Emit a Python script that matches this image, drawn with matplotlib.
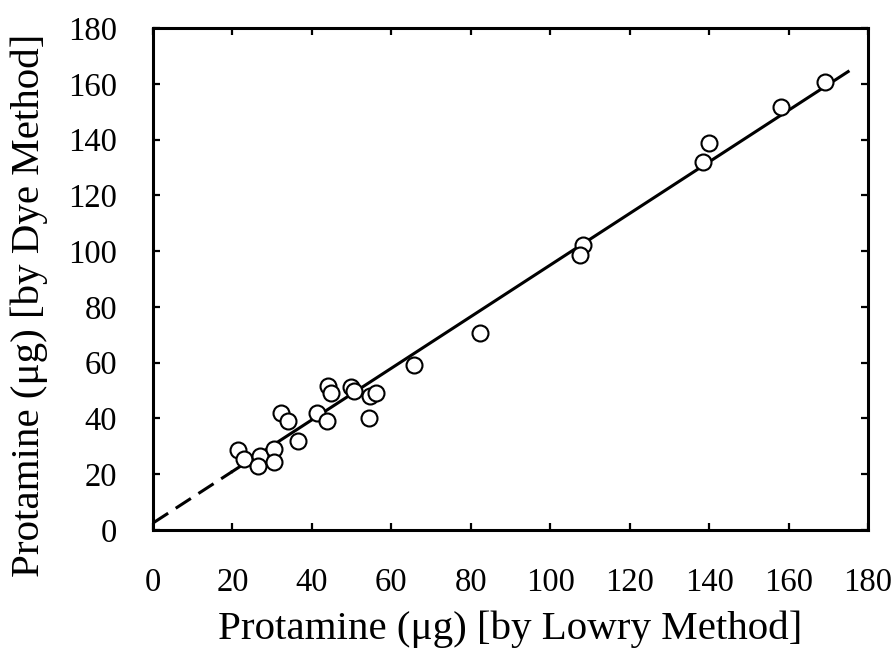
import matplotlib
matplotlib.use("Agg")
import matplotlib.pyplot as plt
import numpy as np

# Data
lowry = [21.5, 23.0, 26.9, 26.4, 30.5, 30.4, 32.2, 34.1, 36.4, 41.3, 43.7,
         44.1, 44.8, 49.8, 50.6, 54.4, 54.6, 56.2, 65.8, 82.4, 108.2, 107.4,
         140.0, 138.4, 158.2, 169.3]
dye = [28.8, 25.5, 26.5, 22.8, 28.9, 24.4, 41.8, 39.1, 31.9, 42.1, 39.1,
       51.8, 49.0, 51.1, 49.7, 40.3, 48.1, 49.1, 59.3, 70.5, 102.2, 98.6,
       138.8, 131.8, 151.5, 160.5]

fit_slope = 0.925
fit_intercept = 2.5
dashed_span = [0, 20]
solid_span = [20, 175]

x_ticks = [0, 20, 40, 60, 80, 100, 120, 140, 160, 180]
y_ticks = [0, 20, 40, 60, 80, 100, 120, 140, 160, 180]

xlabel = "Protamine (\u03bcg) [by Lowry Method]"
ylabel = "Protamine (\u03bcg) [by Dye Method]"

plt.rcParams['font.family'] = ['Liberation Serif', 'DejaVu Serif']
plt.rcParams['lines.scale_dashes'] = False

fig = plt.figure(figsize=(8.94, 6.55), dpi=100)
ax = fig.add_axes([153/894, 1-530/655, (868-153)/894, (530-28)/655])

xd = np.array(dashed_span, dtype=float)
xs = np.array(solid_span, dtype=float)
ax.plot(xd, fit_intercept + fit_slope*xd, color='black', lw=2.2,
        dashes=(13, 6.5), solid_capstyle='butt', zorder=2)
ax.plot(xs, fit_intercept + fit_slope*xs, color='black', lw=2.2, zorder=2)
ax.plot(lowry, dye, linestyle='none', marker='o', markersize=11.5,
        markerfacecolor='white', markeredgecolor='black', markeredgewidth=1.5,
        zorder=3)

ax.set_xlim(0, 180)
ax.set_ylim(0, 180)
ax.set_xticks(x_ticks)
ax.set_yticks(y_ticks)
ax.tick_params(axis='both', which='both', direction='in', length=5, width=1.6,
               top=True, right=True, labelsize=23.5, colors='black')
ax.tick_params(axis='x', pad=27)
ax.tick_params(axis='y', pad=26)
for s in ax.spines.values():
    s.set_linewidth(2.2)

ax.set_xlabel(xlabel, fontsize=29.5, labelpad=9)
ax.set_ylabel(ylabel, fontsize=29.5)
ax.yaxis.set_label_coords(-0.147, 0.448)

fig.savefig("out.png", dpi=100)
